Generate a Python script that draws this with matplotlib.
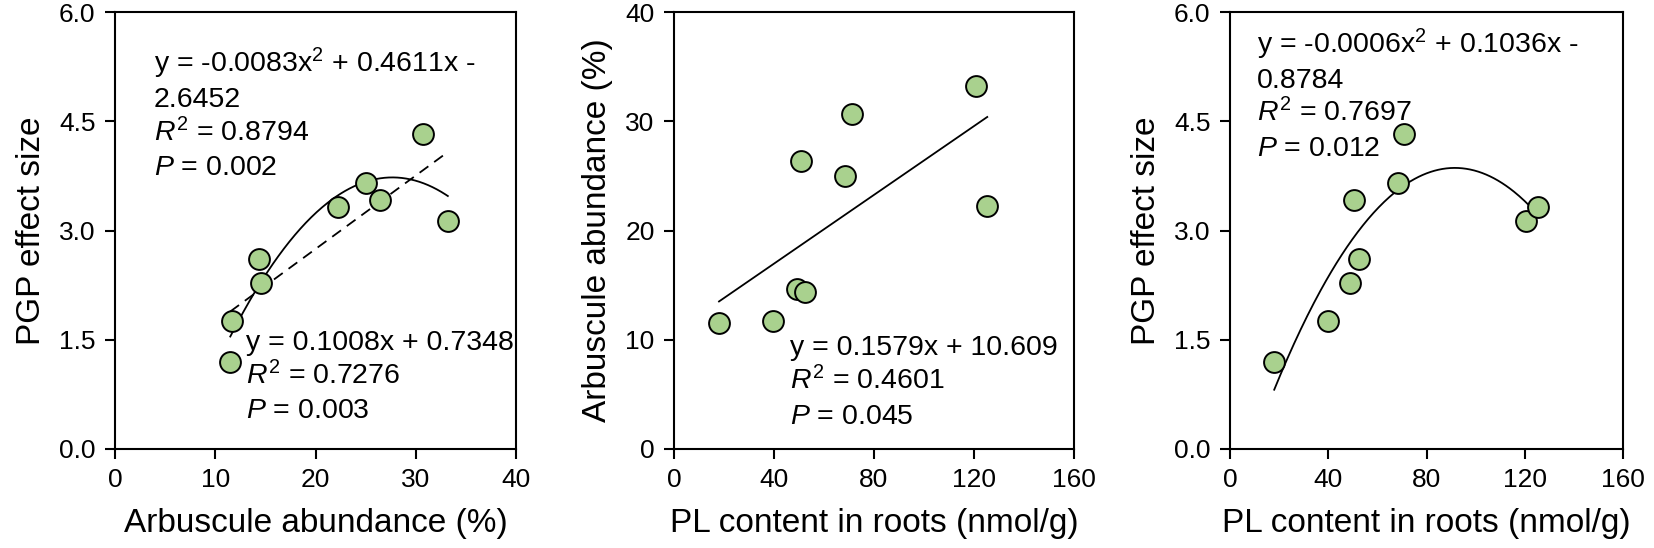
import numpy as np
import matplotlib
matplotlib.use("Agg")
import matplotlib.pyplot as plt

plt.rcParams['font.family'] = ['Liberation Sans', 'DejaVu Sans']
plt.rcParams['mathtext.fontset'] = 'custom'
plt.rcParams['mathtext.rm'] = 'Liberation Sans'
plt.rcParams['mathtext.it'] = 'Liberation Sans:italic'

# ---- data (9 samples) ----
arbuscule = [11.5, 11.7, 14.6, 14.4, 26.4, 25.0, 30.7, 33.2, 22.2]   # Arbuscule abundance (%)
pgp_effect = [1.20, 1.76, 2.28, 2.61, 3.42, 3.65, 4.32, 3.13, 3.32]  # PGP effect size
pl_content = [18.0, 39.7, 49.0, 52.4, 50.6, 68.4, 71.0, 120.7, 125.3]  # PL content (nmol/g)

# tick labels
ticks_arb_x = [0, 10, 20, 30, 40]
ticks_pgp_y = [0.0, 1.5, 3.0, 4.5, 6.0]
ticks_pl_x = [0, 40, 80, 120, 160]
ticks_arb_y = [0, 10, 20, 30, 40]

# annotation texts
txt1_upper = [r"y = -0.0083x$^{\mathrm{2}}$ + 0.4611x -", "2.6452",
              r"$\mathit{R}^{\mathrm{2}}$ = 0.8794", r"$\mathit{P}$ = 0.002"]
txt1_lower = ["y = 0.1008x + 0.7348", r"$\mathit{R}^{\mathrm{2}}$ = 0.7276",
              r"$\mathit{P}$ = 0.003"]
txt2 = ["y = 0.1579x + 10.609", r"$\mathit{R}^{\mathrm{2}}$ = 0.4601",
        r"$\mathit{P}$ = 0.045"]
txt3 = [r"y = -0.0006x$^{\mathrm{2}}$ + 0.1036x -", "0.8784",
        r"$\mathit{R}^{\mathrm{2}}$ = 0.7697", r"$\mathit{P}$ = 0.012"]

FACE = '#a9d18e'
W, H = 1654, 548
fig = plt.figure(figsize=(W / 100, H / 100), dpi=100)

def px_axes(l, r, t, b):
    return fig.add_axes([l / W, 1 - b / H, (r - l) / W, (b - t) / H])

ax1 = px_axes(115, 516, 12, 449)
ax2 = px_axes(674, 1074, 12, 449)
ax3 = px_axes(1230, 1623, 12, 449)

TICK_FS = 19
LAB_FS = 24
ANN_FS = 20.5

def style(ax, xt, yt, yfmt):
    ax.set_xlim(xt[0], xt[-1])
    ax.set_ylim(yt[0], yt[-1])
    ax.set_xticks(xt)
    ax.set_yticks(yt)
    ax.set_xticklabels([str(v) for v in xt])
    ax.set_yticklabels([yfmt.format(v) for v in yt])
    for s in ax.spines.values():
        s.set_linewidth(1.5)
    ax.tick_params(direction='out', length=7, width=1.5, labelsize=TICK_FS,
                   top=False, right=False)
    ax.tick_params(axis='x', pad=7)
    ax.tick_params(axis='y', pad=7)

def scatter(ax, x, y):
    ax.plot(x, y, linestyle='none', marker='o', markersize=15,
            markerfacecolor=FACE, markeredgecolor='black', markeredgewidth=1.4,
            zorder=3)

def fit_line(ax, x, y, deg, ls='-'):
    x = np.asarray(x)
    c = np.polyfit(x, np.asarray(y), deg)
    xs = np.linspace(x.min(), x.max(), 200)
    ax.plot(xs, np.polyval(c, xs), color='black', lw=1.3, ls=ls, zorder=2,
            dashes=(6, 4) if ls == '--' else (None, None))

def text_block(ax, lines, x0, y0, dy):
    for i, s in enumerate(lines):
        ax.text(x0, y0 - i * dy, s, transform=ax.transAxes, fontsize=ANN_FS,
                ha='left', va='baseline', zorder=4)

# Panel 1
style(ax1, ticks_arb_x, ticks_pgp_y, "{:.1f}")
fit_line(ax1, arbuscule, pgp_effect, 2, '-')
fit_line(ax1, arbuscule, pgp_effect, 1, '--')
scatter(ax1, arbuscule, pgp_effect)
ax1.set_xlabel("Arbuscule abundance (%)", fontsize=LAB_FS, labelpad=11)
ax1.set_ylabel("PGP effect size", fontsize=LAB_FS, labelpad=9)
text_block(ax1, txt1_upper, 0.0975, 0.861, 0.078)
text_block(ax1, txt1_lower, 0.3275, 0.226, 0.078)

# Panel 2
style(ax2, ticks_pl_x, ticks_arb_y, "{:d}")
fit_line(ax2, pl_content, arbuscule, 1, '-')
scatter(ax2, pl_content, arbuscule)
ax2.set_xlabel("PL content in roots (nmol/g)", fontsize=LAB_FS, labelpad=11)
ax2.set_ylabel("Arbuscule abundance (%)", fontsize=LAB_FS, labelpad=9)
text_block(ax2, txt2, 0.289, 0.215, 0.079)

# Panel 3
style(ax3, ticks_pl_x, ticks_pgp_y, "{:.1f}")
fit_line(ax3, pl_content, pgp_effect, 2, '-')
scatter(ax3, pl_content, pgp_effect)
ax3.set_xlabel("PL content in roots (nmol/g)", fontsize=LAB_FS, labelpad=11)
ax3.set_ylabel("PGP effect size", fontsize=LAB_FS, labelpad=9)
text_block(ax3, txt3, 0.0695, 0.905, 0.078)

fig.savefig("out.png", dpi=100, facecolor='white')
